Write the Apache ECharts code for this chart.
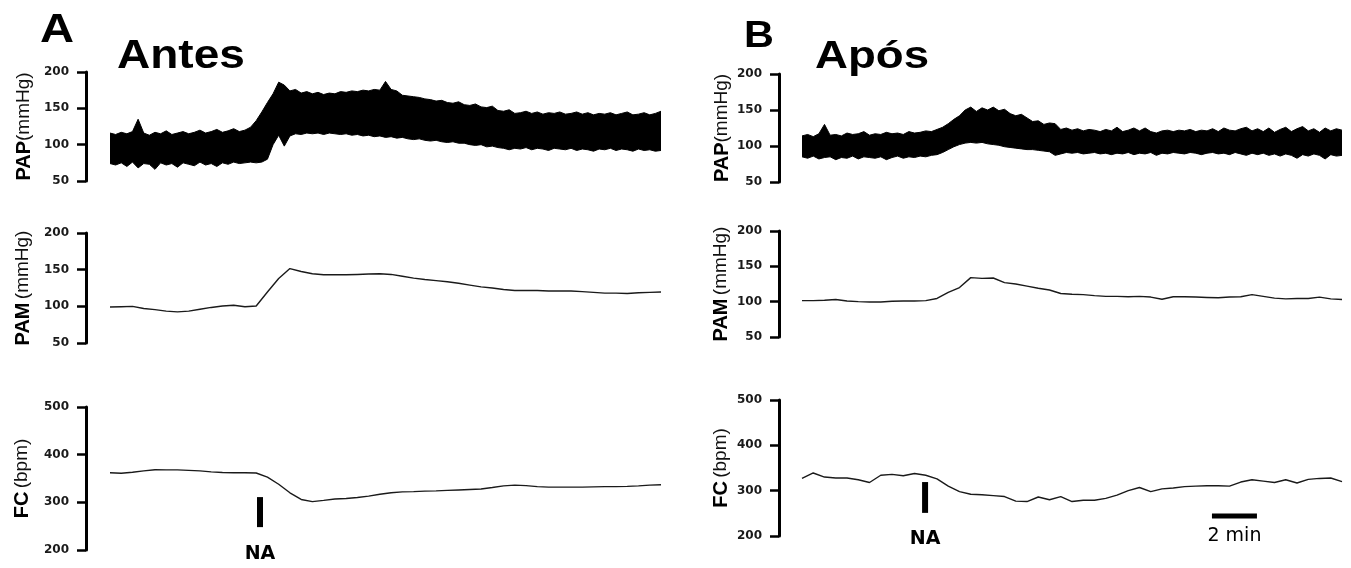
<!DOCTYPE html>
<html>
<head>
<meta charset="utf-8">
<script src="https://cdn.jsdelivr.net/npm/echarts/dist/echarts.min.js"></script>
<style>
html,body{margin:0;padding:0;background:#fff;}
#chart{width:1351px;height:568px;}
</style>
</head>
<body>
<div id="chart"></div>
<script>
// ---------- DATA ----------
// time steps in minutes
const stepFine = 0.25;   // PAP envelopes
const stepCoarse = 0.5;  // PAM and FC traces
const durationA = 24.5;
const durationB = 24;

// Panel A (Antes) - PAP envelope (systolic top / diastolic bottom), mmHg
const papUpperA = [116,114,117,115,118,135,116,113,117,115,119,114,116,118,115,117,120,116,118,121,117,119,122,118,120,
  124,133,145,158,170,
  186,182,174,176,171,173,170,172,169,171,
  170,173,172,174,173,175,174,176,175,187,
  176,174,168,167,166,165,163,162,160,161,
  158,157,159,155,154,156,152,151,153,147,
  146,148,143,144,146,143,145,142,144,143,
  145,142,143,145,142,144,141,143,142,144,
  141,143,145,141,142,144,141,143,146];
const papLowerA = [74,72,75,70,76,68,74,73,66,75,72,74,69,75,73,71,76,72,74,70,75,73,76,74,75,
  76,75,76,80,100,
  113,98,112,115,114,116,115,116,114,116,
  115,114,115,113,114,112,113,111,112,110,
  111,109,110,108,107,108,106,105,106,104,
  103,104,102,102,100,99,100,97,98,96,
  95,93,95,94,96,93,95,94,92,95,
  94,93,95,92,94,93,91,94,93,95,
  92,94,93,91,94,92,93,91,92];
// Panel A - PAM (mmHg)
const pamA = [99,99.5,100,97,95.5,93.5,92.5,93.5,96,98.5,
  100.5,101.5,99.5,100.5,119.5,138,151.5,147.5,144.5,143,
  143,143,143.5,144,144.5,143.5,141,138.5,136.5,135,
  133.5,131.5,129,126.5,125,123,121.5,121.5,121.5,121,
  121,121,120,119,118,118,117.5,118.5,119,119.5];
// Panel A - FC (bpm)
const fcA = [362,361,363,366,368.5,368,368,367,366,364,
  362.5,362,362,361.5,353,338,320,306,301.5,304,
  307,308,310,313,317,320,322,322.5,323.5,324,
  325,326,327,328,331,334.5,336,335,333,332,
  332,332,332,332.5,333,333,333.5,334.5,336,337];

// Panel B (Após) - PAP envelope, mmHg
const papUpperB = [114,116,113,117,130,115,116,114,118,116,117,120,115,117,116,119,117,118,116,120,118,119,121,120,
  123,126,131,137,142,150,154,148,153,150,
  154,149,151,145,142,144,139,134,135,130,
  132,131,123,125,122,124,121,123,122,120,
  123,121,126,120,122,125,121,125,120,118,
  121,122,120,122,121,123,120,122,121,124,
  120,125,122,121,124,126,121,124,120,125,
  119,123,126,120,124,127,121,124,119,125,
  121,124,122];
const papLowerB = [85,83,86,82,84,85,81,84,83,86,82,85,84,83,85,81,84,86,83,85,84,86,85,87,
  88,91,95,99,102,104,105,104,105,103,
  102,101,99,98,97,96,95,95,94,93,
  92,87,89,91,90,91,89,90,91,89,
  90,88,90,89,91,88,90,89,91,87,
  90,89,91,90,89,91,90,88,90,91,
  89,90,88,91,89,87,90,88,90,87,
  89,86,89,87,83,88,86,89,87,82,
  88,86,87];
// Panel B - PAM (mmHg)
const pamB = [101.5,101.5,102,103,101,100,99.5,99.5,100.5,101,
  101,101.5,104.5,113,120,134,133,133.5,127,125,
  122,119,116.5,111.5,110.5,110,108.5,107.5,107.5,107,
  107.5,106.5,103.5,107,107,106.5,106,105.5,106.5,107,
  110,107.5,105,104,104.5,104.5,106.5,104,103];
// Panel B - FC (bpm)
const fcB = [327,339,330,328,328,324,318,334,336,333,
  338,334,326,310,298,292,291,289,287,277,
  276,286,280,287,276,279,279,283,290,300,
  307,298,304,306,309,310,311,311,310,319,
  324,321,318,324,317,325,327,328,320];

// annotations (time in min, FC units)
const naTimeA = 6.67, naTimeB = 5.47;
const naTopA = 311, naBotA = 248;
const naTopB = 319, naBotB = 251;
const scaleBarStart = 18.22, scaleBarLen = 2, scaleBarLevel = 244;

// axis ticks
const pressureTicks = {min: 50, max: 200, interval: 50};
const fcTicks = {min: 200, max: 500, interval: 100};

// texts
const panelLetters = ['A', 'B'];
const panelTitles = ['Antes', 'Após'];
const axisNames = ['{b|PAP}{n|(mmHg)}', '{b|PAM} {n|(mmHg)}', '{b|FC} {n|(bpm)}'];

// ---------- BUILD ----------
const FONT = "'Liberation Sans', Arial, Helvetica, sans-serif";
const WIDE = "'DejaVu Sans', sans-serif";

function pairs(vals, step) { return vals.map((v, i) => [+(i * step).toFixed(3), v]); }

// grid geometry
const grids = [
  {left: 110, top: 72,  width: 551, height: 109},
  {left: 110, top: 233, width: 551, height: 110},
  {left: 110, top: 407, width: 551, height: 143},
  {left: 802, top: 74,  width: 540, height: 108},
  {left: 802, top: 231, width: 540, height: 106},
  {left: 802, top: 400, width: 540, height: 136}
];
const offsets = [24, 24, 24, 23, 23, 23];
const nameGaps = [52, 53, 54, 47, 48, 48];

const xAxes = grids.map((g, i) => ({
  gridIndex: i, type: 'value', min: 0, max: i < 3 ? durationA : durationB, show: false
}));
const yAxes = grids.map((g, i) => {
  const t = (i % 3 === 2) ? fcTicks : pressureTicks;
  return {
    gridIndex: i, type: 'value', min: t.min, max: t.max, interval: t.interval,
    offset: offsets[i],
    axisLine: {show: true, onZero: false, lineStyle: {color: '#000', width: 3}},
    axisTick: {show: true, length: 9, lineStyle: {color: '#000', width: 2.5}},
    axisLabel: {fontFamily: WIDE, fontWeight: 'bold', fontSize: 12, color: '#1a1a1a', margin: 17},
    splitLine: {show: false},
    name: axisNames[i % 3], nameLocation: 'middle', nameGap: nameGaps[i], nameRotate: 90,
    nameTextStyle: {
      rich: {
        b: {fontFamily: FONT, fontWeight: 'bold', fontSize: 20, color: '#000'},
        n: {fontFamily: FONT, fontWeight: 'normal', fontSize: 19, color: '#111'}
      }
    }
  };
});

// pulsatile pressure band: black area under the systolic envelope,
// then a white area under the diastolic envelope drawn on top of it
function band(idx, upper, lower) {
  return [
    {type: 'line', xAxisIndex: idx, yAxisIndex: idx, data: pairs(upper, stepFine), z: 2,
     symbol: 'none', lineStyle: {color: '#000', width: 1},
     areaStyle: {color: '#000', opacity: 1, origin: 'start'}, silent: true},
    {type: 'line', xAxisIndex: idx, yAxisIndex: idx, data: pairs(lower, stepFine), z: 3,
     symbol: 'none', lineStyle: {color: '#000', width: 1},
     areaStyle: {color: '#fff', opacity: 1, origin: 'start'}, silent: true}
  ];
}
function trace(idx, vals) {
  return {type: 'line', xAxisIndex: idx, yAxisIndex: idx, data: pairs(vals, stepCoarse),
          symbol: 'none', lineStyle: {color: '#1a1a1a', width: 1.4}, silent: true};
}
function naMark(idx, t, top, bot, dist) {
  return [
    {type: 'line', xAxisIndex: idx, yAxisIndex: idx, data: [[t, top], [t, bot]], symbol: 'none',
     lineStyle: {color: '#000', width: 6, cap: 'butt'}, silent: true},
    {type: 'scatter', xAxisIndex: idx, yAxisIndex: idx, data: [[t, bot]], symbolSize: 1,
     itemStyle: {color: 'rgba(0,0,0,0)'}, silent: true,
     label: {show: true, formatter: 'NA', position: 'bottom', distance: dist, opacity: 1,
             textBorderWidth: 0, fontFamily: WIDE, fontWeight: 'bold', fontSize: 19, color: '#000'}}
  ];
}

const series = [].concat(
  band(0, papUpperA, papLowerA),
  [trace(1, pamA), trace(2, fcA)],
  naMark(2, naTimeA, naTopA, naBotA, 17),
  band(3, papUpperB, papLowerB),
  [trace(4, pamB), trace(5, fcB)],
  naMark(5, naTimeB, naTopB, naBotB, 16),
  [
    {type: 'line', xAxisIndex: 5, yAxisIndex: 5,
     data: [[scaleBarStart, scaleBarLevel], [scaleBarStart + scaleBarLen, scaleBarLevel]],
     symbol: 'none', lineStyle: {color: '#000', width: 5, cap: 'butt'}, silent: true},
    {type: 'scatter', xAxisIndex: 5, yAxisIndex: 5,
     data: [[scaleBarStart + scaleBarLen / 2, scaleBarLevel]], symbolSize: 1,
     itemStyle: {color: 'rgba(0,0,0,0)'}, silent: true,
     label: {show: true, formatter: '2 min', position: 'bottom', distance: 10, opacity: 1,
             textBorderWidth: 0, fontFamily: WIDE, fontSize: 19, color: '#000'}}
  ]
);

function titleText(text, x, y, size, sx) {
  return {type: 'text', x: x, y: y, scaleX: sx, silent: true,
          style: {text: text, x: 0, y: 0, fontFamily: FONT, fontWeight: 'bold', fontSize: size,
                  fill: '#000', align: 'left', verticalAlign: 'middle'}};
}

const chart = echarts.init(document.getElementById('chart'), null, {renderer: 'canvas'});
chart.setOption({
  animation: false,
  backgroundColor: '#fff',
  grid: grids.map(g => Object.assign({containLabel: false}, g)),
  xAxis: xAxes,
  yAxis: yAxes,
  series: series,
  graphic: [
    titleText(panelLetters[0], 40, 31, 41, 1.15),
    titleText(panelTitles[0], 117, 57, 40, 1.15),
    titleText(panelLetters[1], 744, 37, 37, 1.12),
    titleText(panelTitles[1], 815, 58, 38, 1.2)
  ]
});
</script>
</body>
</html>
